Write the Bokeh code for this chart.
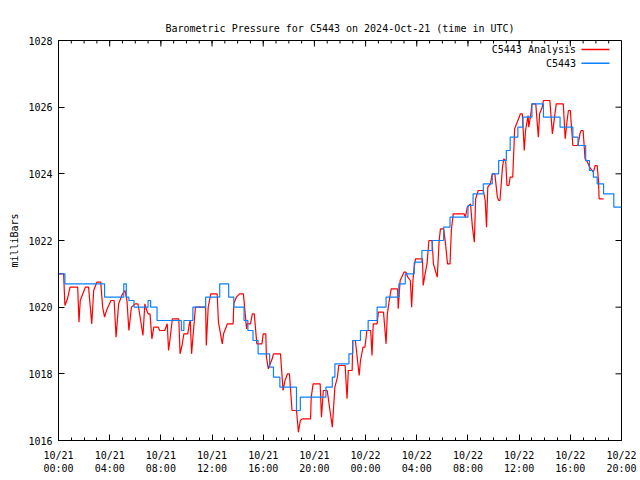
import math
from bokeh.plotting import figure
from bokeh.models import FixedTicker, Range1d, ColumnDataSource, Title
from bokeh.embed import file_html
from bokeh.resources import INLINE

TITLE = "Barometric Pressure for C5443 on 2024-Oct-21 (time in UTC)"
Y_LABEL = "milliBars"
SERIES_NAMES = ["C5443 Analysis", "C5443"]
SERIES_COLORS = ["#ff0000", "#0a80ff"]

X_START, X_END = 0, 44          # hours since 2024-10-21 00:00 UTC
Y_START, Y_END = 1016, 1028
x_major = [0, 4, 8, 12, 16, 20, 24, 28, 32, 36, 40, 44]
x_tick_labels = ["10/21\n00:00", "10/21\n04:00", "10/21\n08:00", "10/21\n12:00",
                 "10/21\n16:00", "10/21\n20:00", "10/22\n00:00", "10/22\n04:00",
                 "10/22\n08:00", "10/22\n12:00", "10/22\n16:00", "10/22\n20:00"]
y_major = [1016, 1018, 1020, 1022, 1024, 1026, 1028]

# C5443 Analysis (red)
analysis_hours = [0.0, 0.4, 0.5, 0.7, 0.9, 1.5, 1.6, 1.7, 1.9, 2.1, 2.35, 2.6, 2.75, 3.0, 3.3, 3.45, 3.6,
    3.75, 4.1, 4.35, 4.5, 4.7, 5.0, 5.2, 5.35, 5.5, 5.7, 6.0, 6.2, 6.3, 6.6, 6.75, 6.85, 7.0, 7.15, 7.3,
    7.45, 7.8, 7.9, 8.3, 8.5, 8.6, 8.75, 8.9, 9.4, 9.5, 9.65, 9.8, 10.1, 10.2, 10.3, 10.4, 10.55, 10.7,
    11.5, 11.55, 11.7, 11.9, 12.4, 12.5, 12.8, 12.9, 13.2, 13.65, 13.7, 13.9, 14.15, 14.45, 14.7, 14.75,
    15.0, 15.15, 15.3, 15.5, 15.9, 16.0, 16.2, 16.25, 16.4, 16.7, 16.8, 17.35, 17.55, 17.7, 17.9, 18.05,
    18.25, 18.6, 18.75, 18.9, 19.05, 19.7, 19.75, 19.9, 20.45, 20.55, 20.7, 21.0, 21.4, 21.6, 21.8, 21.9,
    22.4, 22.55, 22.65, 22.95, 23.0, 23.2, 23.5, 23.6, 23.8, 23.95, 24.1, 24.4, 24.5, 24.6, 24.9, 25.0,
    25.4, 25.6, 25.7, 25.85, 26.0, 26.5, 26.55, 26.7, 27.0, 27.15, 27.3, 27.5, 27.6, 27.7, 27.8, 27.9,
    28.45, 28.5, 28.65, 28.8, 28.95, 29.2, 29.3, 29.6, 29.75, 29.85, 30.1, 30.25, 30.4, 30.6, 30.7, 30.85,
    31.7, 31.8, 31.95, 32.2, 32.35, 32.5, 32.6, 32.8, 33.2, 33.35, 33.45, 33.55, 33.75, 33.9, 34.1, 34.3,
    34.4, 34.5, 34.7, 34.8, 34.95, 35.05, 35.2, 35.3, 35.5, 35.65, 36.0, 36.1, 36.25, 36.4, 36.5, 36.7,
    36.75, 36.9, 37.0, 37.3, 37.5, 37.6, 37.8, 37.9, 38.4, 38.6, 38.8, 38.9, 39.45, 39.6, 39.75, 39.85,
    40.0, 40.2, 40.6, 40.75, 40.85, 41.0, 41.15, 41.35, 41.5, 41.8, 41.95, 42.1, 42.2, 42.25, 42.6]
analysis_mb = [1021.0, 1021.0, 1020.05, 1020.25, 1020.6, 1020.6, 1019.55, 1020.2, 1020.4, 1020.6, 1020.6,
    1019.5, 1020.5, 1020.75, 1020.75, 1020.0, 1019.7, 1019.9, 1020.2, 1020.2, 1019.1, 1020.1, 1020.4,
    1020.5, 1020.2, 1019.3, 1020.0, 1020.1, 1020.1, 1019.9, 1019.15, 1020.1, 1019.95, 1019.8, 1019.8,
    1019.05, 1019.4, 1019.4, 1019.3, 1019.3, 1019.5, 1018.7, 1019.15, 1019.65, 1019.65, 1018.6, 1018.85,
    1019.2, 1019.2, 1019.45, 1019.6, 1018.6, 1019.3, 1020.0, 1020.0, 1018.85, 1020.0, 1020.4, 1020.4,
    1019.55, 1018.9, 1019.2, 1019.5, 1019.5, 1020.1, 1020.3, 1020.4, 1020.4, 1019.35, 1019.5, 1019.5,
    1019.8, 1019.8, 1018.9, 1018.9, 1019.2, 1019.2, 1018.5, 1018.15, 1018.45, 1018.6, 1018.6, 1017.5,
    1017.8, 1018.0, 1018.0, 1016.9, 1016.9, 1016.25, 1016.6, 1016.65, 1016.65, 1017.3, 1017.7, 1017.7,
    1016.7, 1017.5, 1017.5, 1016.4, 1017.6, 1017.9, 1018.25, 1018.25, 1017.25, 1018.1, 1018.1, 1019.0,
    1019.0, 1017.95, 1018.4, 1018.8, 1018.8, 1019.3, 1019.3, 1018.55, 1019.5, 1019.5, 1019.85, 1019.85,
    1018.9, 1019.8, 1020.2, 1020.55, 1020.55, 1019.95, 1020.8, 1021.05, 1021.05, 1020.9, 1020.8, 1020.0,
    1020.8, 1021.2, 1021.45, 1021.45, 1020.65, 1021.0, 1021.3, 1022.0, 1022.0, 1021.3, 1020.9, 1022.0,
    1022.35, 1022.35, 1021.9, 1021.3, 1021.3, 1022.3, 1022.8, 1022.8, 1022.7, 1023.0, 1023.1, 1022.4,
    1021.95, 1023.25, 1023.5, 1023.5, 1023.2, 1022.4, 1023.6, 1023.7, 1024.0, 1024.0, 1023.3, 1023.2,
    1023.2, 1024.2, 1024.45, 1024.4, 1023.65, 1023.65, 1023.9, 1023.9, 1025.35, 1025.7, 1025.8, 1025.8,
    1024.7, 1025.3, 1025.75, 1025.4, 1025.75, 1026.1, 1026.1, 1025.1, 1025.8, 1026.0, 1026.2, 1026.2,
    1025.2, 1025.8, 1026.1, 1026.1, 1025.05, 1025.6, 1025.9, 1025.9, 1024.85, 1024.85, 1025.2, 1025.3,
    1025.3, 1024.45, 1024.35, 1024.2, 1024.05, 1024.25, 1024.25, 1023.8, 1023.25, 1023.25]

# C5443 station (blue), value holds until next change
station_hours = [0.0, 0.5, 3.6, 5.1, 5.3, 5.5, 5.9, 7.0, 7.2, 7.7, 9.6, 9.8, 10.5, 11.5, 12.6, 13.3,
    13.7, 14.5, 14.8, 15.2, 15.6, 16.5, 16.8, 17.3, 18.6, 18.9, 20.9, 21.4, 21.6, 22.7, 23.0, 23.6, 24.2,
    24.9, 25.6, 26.6, 27.1, 27.8, 28.4, 29.2, 30.1, 30.6, 32.0, 32.4, 33.2, 33.9, 34.4, 35.0, 35.3, 35.9,
    36.3, 37.0, 37.9, 39.2, 40.2, 40.6, 41.2, 41.5, 41.8, 42.1, 42.6, 43.4, 44.0]
station_mb = [1021.0, 1020.7, 1020.3, 1020.7, 1020.3, 1020.2, 1020.0, 1020.2, 1020.0, 1019.6, 1019.3,
    1019.6, 1020.0, 1020.3, 1020.7, 1020.3, 1020.0, 1019.6, 1019.3, 1019.0, 1018.6, 1018.2, 1017.9,
    1017.6, 1016.9, 1017.3, 1017.6, 1017.9, 1018.3, 1018.6, 1019.0, 1019.3, 1019.6, 1020.0, 1020.3,
    1020.7, 1021.0, 1021.35, 1021.7, 1022.0, 1022.4, 1022.7, 1023.05, 1023.4, 1023.7, 1024.0, 1024.4,
    1024.7, 1025.1, 1025.4, 1025.7, 1026.1, 1025.7, 1025.4, 1025.1, 1024.85, 1024.4, 1024.1, 1023.9,
    1023.7, 1023.4, 1023.0, 1023.0]

FONT = "DejaVu Sans Mono"
FS = "10px"

p = figure(width=640, height=480, output_backend="svg", toolbar_location=None,
           x_range=Range1d(X_START, X_END), y_range=Range1d(Y_START, Y_END),
           min_border_left=58, min_border_right=19, min_border_top=40, min_border_bottom=40,
           title=TITLE)
p.title.text_font = FONT
p.title.text_font_size = FS
p.title.text_font_style = "normal"
p.title.text_color = "black"
p.title.align = "center"
p.title.standoff = 14
p.xgrid.visible = False
p.ygrid.visible = False
p.outline_line_color = "black"
p.outline_line_width = 1
p.background_fill_color = "white"
p.border_fill_color = "white"

minor_x = list(range(X_START, X_END + 1))

def style_axis(ax, ticks, minor):
    ax.ticker = FixedTicker(ticks=ticks, minor_ticks=minor)
    ax.axis_line_color = "black"
    ax.major_tick_line_color = "black"
    ax.minor_tick_line_color = "black"
    ax.major_tick_in = 6
    ax.major_tick_out = 0
    ax.minor_tick_in = 3
    ax.minor_tick_out = 0
    ax.major_label_text_font = FONT
    ax.major_label_text_font_size = FS
    ax.major_label_text_color = "black"

xax = p.xaxis[0]
style_axis(xax, x_major, minor_x)
xax.major_label_overrides = {t: lab for t, lab in zip(x_major, x_tick_labels)}
xax.major_label_standoff = 9

yax = p.yaxis[0]
style_axis(yax, y_major, [])
yax.major_label_standoff = 6

# vertical y-axis title on the left
p.add_layout(Title(text=Y_LABEL, align="center", text_font=FONT, text_font_size=FS,
                   text_font_style="normal", text_color="black", standoff=12), "left")

# mirrored inward ticks on top and right borders
p.ray(x=x_major, y=[Y_END] * len(x_major), length=6, length_units="screen",
      angle=-math.pi / 2, line_color="black", line_width=1)
p.ray(x=minor_x, y=[Y_END] * len(minor_x), length=3, length_units="screen",
      angle=-math.pi / 2, line_color="black", line_width=1)
p.ray(x=[X_END] * len(y_major), y=y_major, length=6, length_units="screen",
      angle=math.pi, line_color="black", line_width=1)

src_a = ColumnDataSource(dict(x=analysis_hours, y=analysis_mb))
src_s = ColumnDataSource(dict(x=station_hours, y=station_mb))
p.line("x", "y", source=src_a, line_color=SERIES_COLORS[0], line_width=1.2)
p.step("x", "y", source=src_s, mode="after", line_color=SERIES_COLORS[1], line_width=1.2)

# gnuplot-style key: text then sample line, top right
key_y_mb = [Y_END - 0.27, Y_END - 0.68]
for name, color, ky in zip(SERIES_NAMES, SERIES_COLORS, key_y_mb):
    p.text(x=[X_END - 3.55], y=[ky], text=[name], text_align="right", text_baseline="middle",
           text_font={"value": FONT}, text_font_size={"value": FS}, text_color="black")
    p.line(x=[X_END - 3.13, X_END - 0.94], y=[ky, ky], line_color=color, line_width=1.5)

open("out.html", "w").write(file_html(p, INLINE))
